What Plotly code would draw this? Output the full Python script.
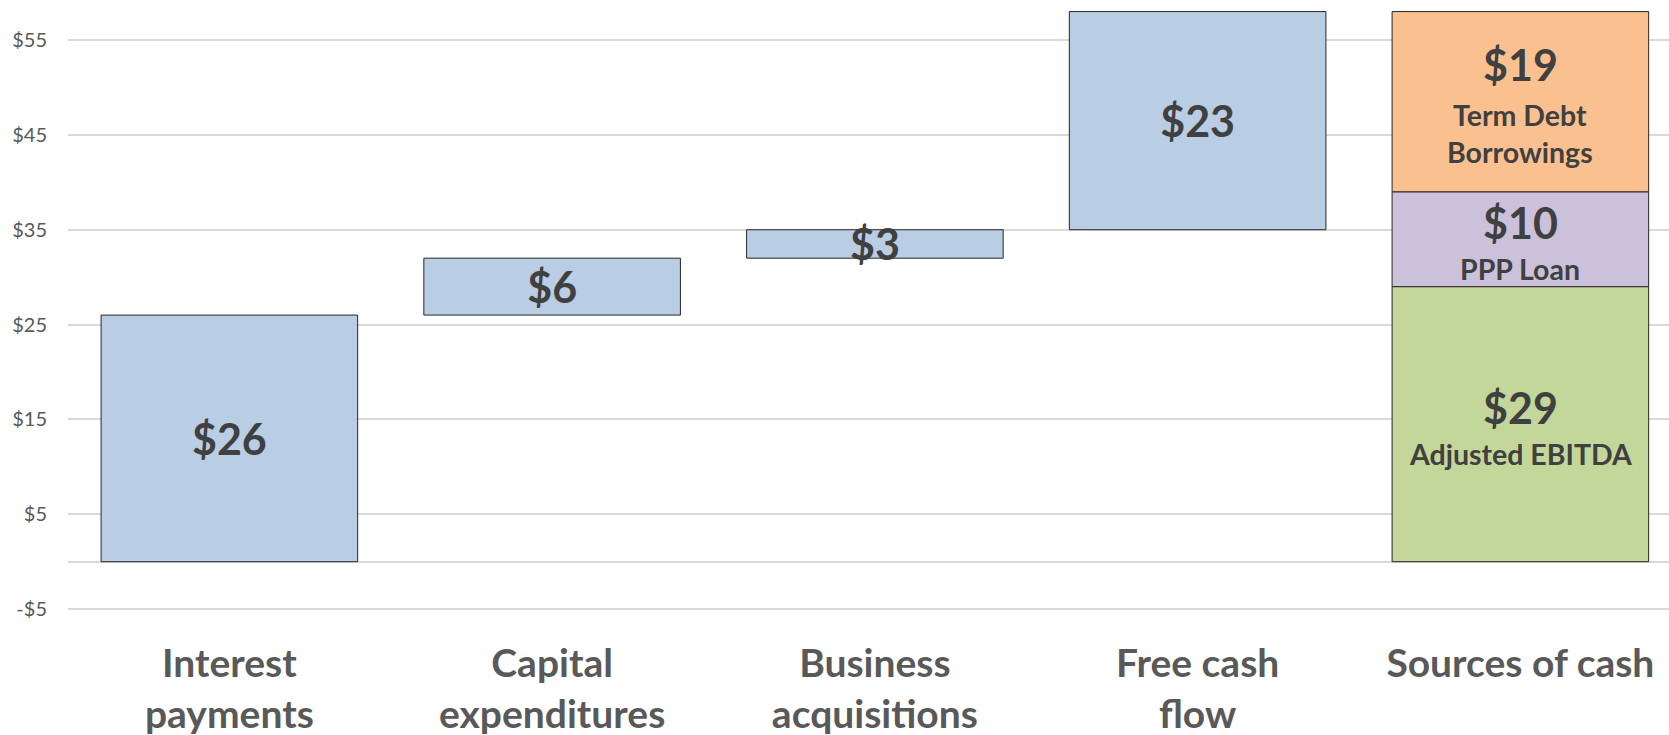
import plotly.graph_objects as go

# ---- data ----
categories = ["Interest<br>payments", "Capital<br>expenditures", "Business<br>acquisitions",
              "Free cash<br>flow", "Sources of cash"]
uses_values = [26, 6, 3, 23]          # waterfall steps (first four categories)
source_names = ["Adjusted EBITDA", "PPP Loan", "Term Debt<br>Borrowings"]
source_values = [29, 10, 19]
source_colors = ["#C4D79B", "#CCC1DA", "#FAC090"]
y_tickvals = [-5, 5, 15, 25, 35, 45, 55]
y_ticktext = ["-$5", "$5", "$15", "$25", "$35", "$45", "$55"]

LABEL_COLOR = "#404040"
AXIS_COLOR = "#595959"
FONT = "Lato"
EDGE = "#262626"

fig = go.Figure()

# waterfall bases (cumulative)
bases = []
run = 0
for v in uses_values:
    bases.append(run)
    run += v

fig.add_trace(go.Bar(
    x=categories[:4], y=uses_values, base=bases,
    width=0.795,
    marker=dict(color="#B9CDE5", line=dict(color=EDGE, width=1)),
    text=[f"${v}" for v in uses_values],
    textposition="inside", insidetextanchor="middle", textangle=0,
    constraintext="none",
    textfont=dict(family=FONT, size=43, color=LABEL_COLOR, weight="bold"),
    hoverinfo="skip", showlegend=False,
))

# sources stacked
sbase = 0
for name, v, c in zip(source_names, source_values, source_colors):
    fig.add_trace(go.Bar(
        x=[categories[4]], y=[v], base=[sbase], width=0.795,
        marker=dict(color=c, line=dict(color=EDGE, width=1)),
        hoverinfo="skip", showlegend=False,
    ))
    mid = sbase + v / 2
    nlines = name.count("<br>") + 1
    up = 37 if nlines == 2 else 17
    down = -32 if nlines == 2 else -30
    fig.add_annotation(x=categories[4], y=mid, yshift=up, text=f"<b>${v}</b>",
                       showarrow=False, font=dict(family=FONT, size=43, color=LABEL_COLOR))
    fig.add_annotation(x=categories[4], y=mid, yshift=down, text=f"<b>{name}</b>",
                       showarrow=False, font=dict(family=FONT, size=28.5, color=LABEL_COLOR))
    sbase += v

fig.update_layout(
    width=1669, height=735,
    margin=dict(l=68, r=0, t=0, b=105, autoexpand=False),
    barmode="overlay",
    plot_bgcolor="white", paper_bgcolor="white",
    font=dict(family=FONT),
)
fig.update_xaxes(
    type="category", range=[-0.5, 4.4605], automargin=False,
    showgrid=False, showline=False, zeroline=False, ticks="",
    tickfont=dict(family=FONT, size=39, color=AXIS_COLOR, weight="bold"),
    ticklabelstandoff=7,
)
fig.update_yaxes(
    range=[-7.2, 59.22], automargin=False,
    tickvals=y_tickvals, ticktext=y_ticktext,
    showgrid=True, gridcolor="#D9D9D9", gridwidth=1.5,
    zeroline=True, zerolinecolor="#D9D9D9", zerolinewidth=1.5,
    showline=False, ticks="",
    tickfont=dict(family=FONT, size=20, color=AXIS_COLOR),
    ticklabelstandoff=20,
)

fig.write_html("out.html", config={"displayModeBar": False},
               post_script="document.body.style.margin='0';document.body.style.overflow='hidden';")
